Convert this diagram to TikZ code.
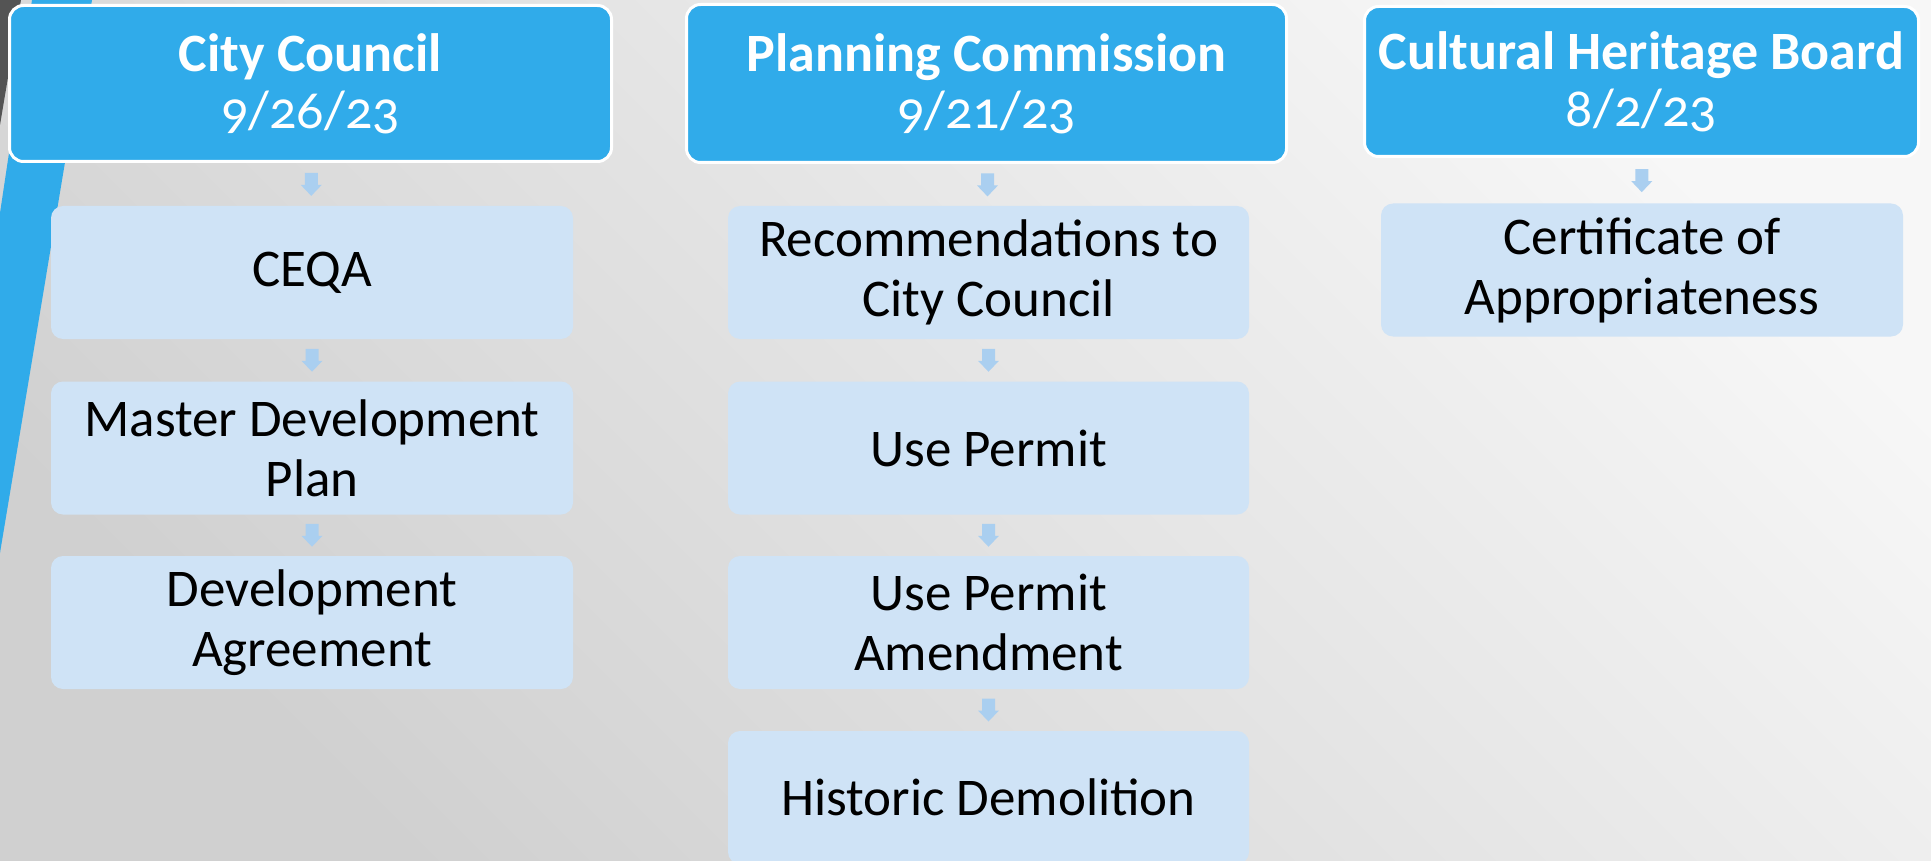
\documentclass[tikz,border=0pt]{standalone}
\usepackage{fontspec}
\setmainfont{Carlito}[Numbers=OldStyle]
\usetikzlibrary{calc}
\definecolor{hdrblue}{RGB}{48,171,234}
\definecolor{subblue}{RGB}{207,227,246}
\definecolor{arrblue}{RGB}{170,207,240}
\definecolor{bglight}{RGB}{247,247,247}
\definecolor{bgdark}{RGB}{208,208,208}
\definecolor{cornergray}{RGB}{84,84,84}
\newcommand\flowarrow[2]{\fill[arrblue] ($(#1.south)!0.5!(#2.north)$) ++(-6.5,-11.5) -- ++(13,0) -- ++(0,12) -- ++(4,0) -- ++(-10.5,11) -- ++(-10.5,-11) -- ++(4,0) -- cycle;}
\begin{document}
\begin{tikzpicture}[x=1pt,y=-1pt,
  hdr/.style={draw=white, line width=3pt, fill=hdrblue, rounded corners=14pt,
    text=white, align=center, inner sep=0pt,
    font=\fontsize{54}{57}\selectfont},
  subbox/.style={fill=subblue, rounded corners=12pt, minimum width=522,
    minimum height=133, align=center, inner sep=0pt, text=black,
    font=\fontsize{53}{60}\selectfont}]
\useasboundingbox (0,0) rectangle (1931,861);
\shade[top color=bglight, bottom color=bgdark, shading angle=-45] (0,0) rectangle (1931,861);
\fill[cornergray] (0,0) -- (21,0) -- (0,125) -- cycle;
\fill[hdrblue] (32,0) -- (92,0) -- (0,553) -- (0,213) -- cycle;

% column 1
\node[hdr, minimum width=602, minimum height=156] (h1) at (310.5,83.5) {\textbf{City Council}\\9/26/23};
\node[subbox] (a1) at (312,272.5) {CEQA};
\node[subbox] (b1) at (312,448) {Master Development\\Plan};
\node[subbox] (c1) at (312,622.5) {Development\\Agreement};

% column 2
\node[hdr, minimum width=600, minimum height=158] (h2) at (986.5,83.5) {\textbf{Planning Commission}\\9/21/23};
\node[subbox, minimum width=521] (a2) at (988.5,272.5) {Recommendations to\\City Council};
\node[subbox, minimum width=521] (b2) at (988.5,448) {Use Permit};
\node[subbox, minimum width=521] (c2) at (988.5,622.5) {Use Permit\\Amendment};
\node[subbox, minimum width=521] (d2) at (988.5,797.5) {Historic Demolition};

% column 3
\node[hdr, minimum width=554, minimum height=150] (h3) at (1641.5,81.5) {\textbf{Cultural Heritage Board}\\8/2/23};
\node[subbox] (a3) at (1642,270) {Certificate of\\Appropriateness};

\flowarrow{h1}{a1}
\flowarrow{a1}{b1}
\flowarrow{b1}{c1}
\flowarrow{h2}{a2}
\flowarrow{a2}{b2}
\flowarrow{b2}{c2}
\flowarrow{c2}{d2}
\flowarrow{h3}{a3}
\end{tikzpicture}
\end{document}
